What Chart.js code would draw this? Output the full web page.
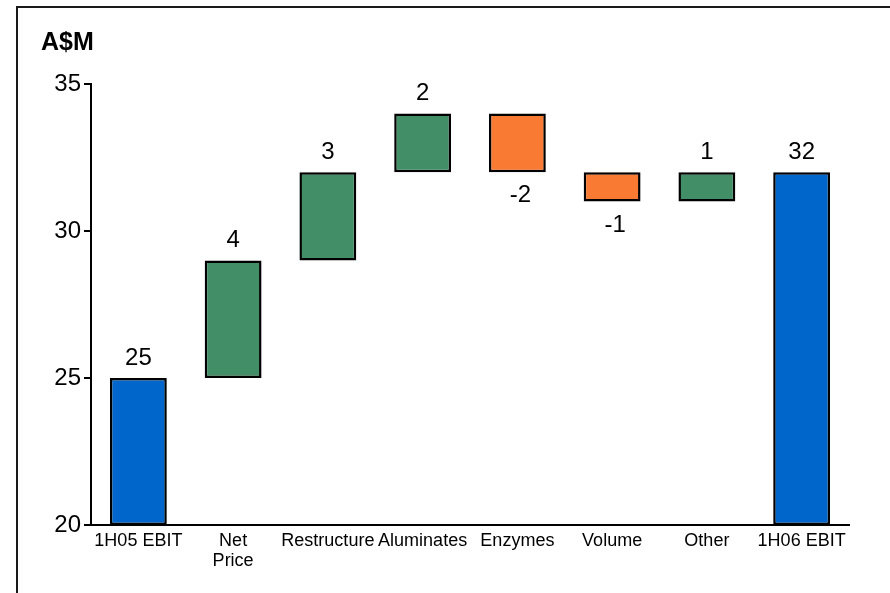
<!DOCTYPE html>
<html>
<head>
<meta charset="utf-8">
<script src="https://cdn.jsdelivr.net/npm/chart.js@4.4.1/dist/chart.umd.min.js"></script>
<style>
  html, body { margin: 0; padding: 0; background: #ffffff; }
  #wrap { width: 890px; height: 593px; position: relative; }
</style>
</head>
<body>
<div id="wrap"><canvas id="chart"></canvas></div>
<script>
// EBIT bridge, 1H05 to 1H06 (A$M)
const categories = ['1H05 EBIT', ['Net', 'Price'], 'Restructure', 'Aluminates', 'Enzymes', 'Volume', 'Other', '1H06 EBIT'];
const openingEbit = 25;
const movements = [4, 3, 2, -2, -1, 1];
const closingEbit = 32;
const yTicks = [20, 25, 30, 35];

const axisMin = 20;
const FONT = "'Liberation Sans', Arial, Helvetica, sans-serif";
const BLUE = '#0066CC', GREEN = '#428F67', ORANGE = '#F97A32';

// Floating ranges: totals rise from the axis floor, movements stack on the running total
const ranges = [[axisMin, openingEbit]];
const labels = [openingEbit];
const colors = [BLUE];
let running = openingEbit;
movements.forEach(m => {
  const next = running + m;
  ranges.push([Math.min(running, next), Math.max(running, next)]);
  labels.push(m);
  colors.push(m >= 0 ? GREEN : ORANGE);
  running = next;
});
ranges.push([axisMin, closingEbit]);
labels.push(closingEbit);
colors.push(BLUE);

// Frame and unit caption
const framePlugin = {
  id: 'frame',
  beforeDraw(chart) {
    const ctx = chart.ctx;
    ctx.save();
    ctx.fillStyle = '#ffffff';
    ctx.fillRect(0, 0, chart.width, chart.height);
    ctx.strokeStyle = '#1a1a1a';
    ctx.lineWidth = 2;
    ctx.beginPath();
    ctx.moveTo(17, chart.height);
    ctx.lineTo(17, 7);
    ctx.lineTo(chart.width, 7);
    ctx.stroke();
    ctx.fillStyle = '#000000';
    ctx.font = 'bold 25px ' + FONT;
    ctx.textAlign = 'left';
    ctx.textBaseline = 'alphabetic';
    ctx.fillText('A$M', 41, 50);
    ctx.restore();
  }
};

// Value labels: above rising bars, below falling bars
const valueLabelPlugin = {
  id: 'valueLabels',
  afterDatasetsDraw(chart) {
    const ctx = chart.ctx;
    const meta = chart.getDatasetMeta(0);
    ctx.save();
    ctx.fillStyle = '#000000';
    ctx.font = '24px ' + FONT;
    ctx.textAlign = 'center';
    ctx.textBaseline = 'alphabetic';
    meta.data.forEach((bar, i) => {
      const v = labels[i];
      const r = ranges[i];
      const yTop = chart.scales.y.getPixelForValue(r[1]);
      const yBot = chart.scales.y.getPixelForValue(r[0]);
      if (v >= 0) {
        ctx.fillText(String(v), bar.x, yTop - 13);
      } else {
        ctx.fillText(String(v), bar.x + 3, yBot + 30);
      }
    });
    ctx.restore();
  }
};

new Chart(document.getElementById('chart'), {
  type: 'bar',
  data: {
    labels: categories,
    datasets: [{
      data: ranges,
      backgroundColor: colors,
      borderColor: '#000000',
      borderWidth: 2.5,
      borderSkipped: false,
      barPercentage: 0.6,
      categoryPercentage: 1.0
    }]
  },
  options: {
    responsive: true,
    maintainAspectRatio: false,
    animation: false,
    layout: { padding: { top: 84, right: 41, bottom: 0, left: 0 } },
    plugins: {
      legend: { display: false },
      tooltip: { enabled: false }
    },
    scales: {
      x: {
        grid: { display: false, drawTicks: false },
        border: { display: true, color: '#000000', width: 2 },
        ticks: {
          color: '#000000',
          font: { family: FONT, size: 18, lineHeight: 1.1 },
          padding: 6,
          maxRotation: 0,
          autoSkip: false
        },
        afterFit(scale) { scale.height = 68; }
      },
      y: {
        min: axisMin,
        max: 35,
        afterBuildTicks(scale) { scale.ticks = yTicks.map(v => ({ value: v })); },
        grid: { display: true, drawOnChartArea: false, drawTicks: true, tickLength: 7, color: '#000000', lineWidth: 2 },
        border: { display: true, color: '#000000', width: 2 },
        ticks: {
          color: '#000000',
          font: { family: FONT, size: 24 },
          padding: 3
        },
        afterFit(scale) { scale.width = 91; }
      }
    }
  },
  plugins: [framePlugin, valueLabelPlugin]
});
</script>
</body>
</html>
